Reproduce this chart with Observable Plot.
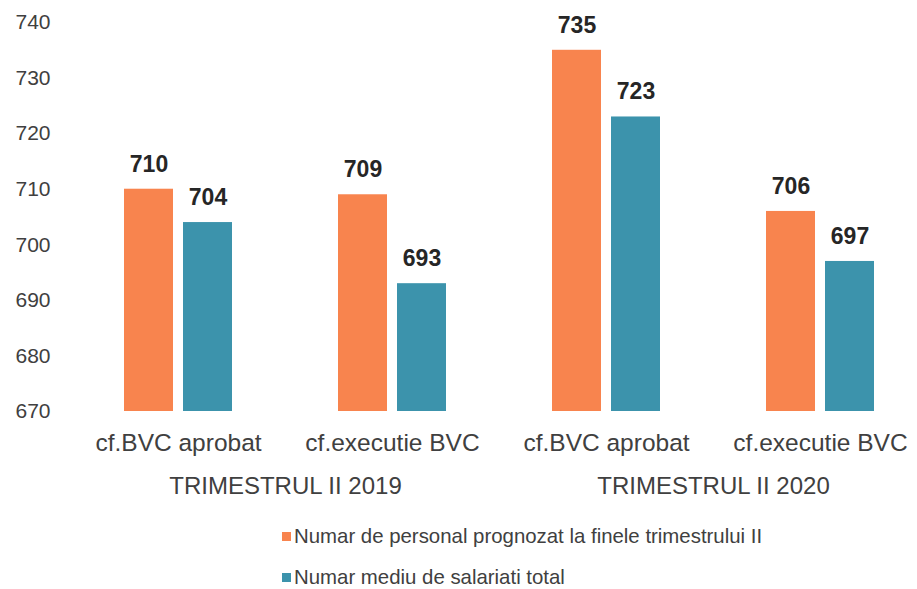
<!DOCTYPE html>
<html>
<head>
<meta charset="utf-8">
<script src="https://cdn.jsdelivr.net/npm/d3@7"></script>
<script src="https://cdn.jsdelivr.net/npm/@observablehq/plot@0.6"></script>
<style>
  html, body { margin: 0; padding: 0; background: #fff; }
  body { width: 917px; height: 589px; overflow: hidden; font-family: "Liberation Sans", Arial, sans-serif; }
  #legend { position: relative; width: 917px; }
  .row { position: absolute; left: 282px; display: flex; align-items: center; font-size: 20.4px; color: #404040; white-space: nowrap; }
  .sw { width: 9px; height: 9px; margin-right: 3px; }
</style>
</head>
<body>
<div id="chart"></div>
<div id="legend"></div>
<script>
const categories = ["cf.BVC aprobat", "cf.executie BVC", "cf.BVC aprobat", "cf.executie BVC"];
const periods = ["TRIMESTRUL II 2019", "TRIMESTRUL II 2020"];
const periodGroup = [0, 2];
const seriesNames = ["Numar de personal prognozat la finele trimestrului II", "Numar mediu de salariati total"];
const personal = [710, 709, 735, 706];
const mediu = [704, 693, 723, 697];
const colors = ["#F8844E", "#3C93AC"];
const yTicks = [670, 680, 690, 700, 710, 720, 730, 740];

const data = [];
categories.forEach((c, i) => {
  data.push({key: i, series: seriesNames[0], value: personal[i]});
  data.push({key: i, series: seriesNames[1], value: mediu[i]});
});
const periodData = periods.map((p, i) => ({key: periodGroup[i], label: p}));

const chart = Plot.plot({
  width: 917,
  height: 510,
  marginTop: 22,
  marginBottom: 99,
  marginLeft: 69,
  marginRight: 0,
  style: {fontFamily: "Liberation Sans, Arial, sans-serif", background: "#fff"},
  fx: {domain: [0, 1, 2, 3], range: [70, 928], padding: 0, label: null, axis: null},
  x: {domain: seriesNames, paddingInner: 0.167, paddingOuter: 0.87, axis: null},
  y: {domain: [670, 740], ticks: yTicks, label: null},
  color: {domain: seriesNames, range: colors},
  marks: [
    Plot.axisY({ticks: yTicks, tickSize: 0, tickPadding: 21, fontSize: 21, fill: "#404040", label: null}),
    Plot.axisFx({anchor: "bottom", tickSize: 0, tickPadding: 22, fontSize: 24.5, fill: "#404040", label: null, tickFormat: i => categories[i]}),
    Plot.barY(data, {fx: "key", x: "series", y1: 670, y2: "value", fill: "series"}),
    Plot.text(data, {fx: "key", x: "series", y: "value", text: d => String(d.value), dy: -25, fontSize: 23, fontWeight: "bold", fill: "#262626"}),
    Plot.text(periodData, {fx: "key", text: "label", frameAnchor: "bottom-right", textAnchor: "middle", dy: 82, fontSize: 24, fill: "#404040"})
  ]
});
document.getElementById("chart").appendChild(chart);

const legend = document.getElementById("legend");
seriesNames.forEach((s, i) => {
  const row = document.createElement("div");
  row.className = "row";
  row.style.top = (i === 0 ? 15 : 56) + "px";
  const sw = document.createElement("div");
  sw.className = "sw";
  sw.style.background = colors[i];
  const t = document.createElement("span");
  t.textContent = s;
  row.appendChild(sw);
  row.appendChild(t);
  legend.appendChild(row);
});
</script>
</body>
</html>
